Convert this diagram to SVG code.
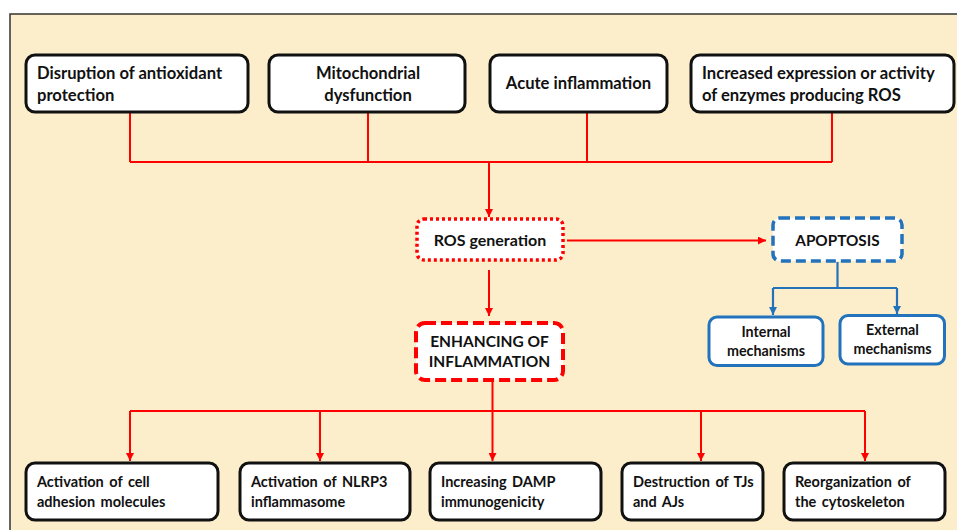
<svg xmlns="http://www.w3.org/2000/svg" width="957" height="530" viewBox="0 0 957 530">
<defs>
<marker id="ar" viewBox="0 0 8 8" refX="8" refY="4" markerWidth="8" markerHeight="8" markerUnits="userSpaceOnUse" orient="auto"><path d="M0,0 L8,4 L0,8 z" fill="#FF0000"/></marker>
<marker id="ab" viewBox="0 0 8 8" refX="8" refY="4" markerWidth="8" markerHeight="8" markerUnits="userSpaceOnUse" orient="auto"><path d="M0,0 L8,4 L0,8 z" fill="#2272BC"/></marker>
</defs>
<style>
.t{font-family:Lato,"Liberation Sans",sans-serif;font-weight:bold;font-size:16.6px;fill:#111}
.m{font-size:16px}
.s{font-size:14.3px}
.l{font-size:14.5px;word-spacing:2px}
.c{text-anchor:middle}
.bx{fill:#fff;stroke:#111;stroke-width:3}
.bb{fill:#fff;stroke:#2272BC;stroke-width:3}
.r{fill:none;stroke:#FF0000;stroke-width:2}
.b{fill:none;stroke:#2272BC;stroke-width:2.2}
</style>
<rect x="0" y="0" width="957" height="530" fill="#fff"/>
<rect x="10" y="14" width="960" height="530" fill="#FDEECB" stroke="#333" stroke-width="1.5"/>

<g id="connectors">
<path class="r" d="M130,112 V162 M368,112 V162 M587,112 V162 M832,112 V162 M130,162 H832"/>
<path class="r" d="M489,162 V217" marker-end="url(#ar)"/>
<path class="r" d="M567,240.5 H766" marker-end="url(#ar)"/>
<path class="r" d="M489,270 V316" marker-end="url(#ar)"/>
<path class="r" d="M492.5,382 V411 M130,411 H865"/>
<path class="r" d="M130,411 V461" marker-end="url(#ar)"/>
<path class="r" d="M320,411 V461" marker-end="url(#ar)"/>
<path class="r" d="M492.5,411 V461" marker-end="url(#ar)"/>
<path class="r" d="M701,411 V461" marker-end="url(#ar)"/>
<path class="r" d="M865,411 V461" marker-end="url(#ar)"/>
<path class="b" d="M837.5,262 V288 M773,288 H897"/>
<path class="b" d="M773,288 V315" marker-end="url(#ab)"/>
<path class="b" d="M897,288 V314" marker-end="url(#ab)"/>
</g>

<g id="n1"><rect class="bx" x="26" y="55" width="222" height="57" rx="9"/>
<text class="t" x="37" y="79">Disruption of antioxidant</text><text class="t" x="37" y="101">protection</text></g>
<g id="n2"><rect class="bx" x="269" y="55" width="196" height="57" rx="9"/>
<text class="t c" x="368" y="79">Mitochondrial</text><text class="t c" x="368" y="101">dysfunction</text></g>
<g id="n3"><rect class="bx" x="490" y="55" width="177" height="57" rx="9"/>
<text class="t c" x="578.5" y="89">Acute inflammation</text></g>
<g id="n4"><rect class="bx" x="691" y="55" width="263" height="57" rx="9"/>
<text class="t" x="702" y="79">Increased expression or activity</text><text class="t" x="702" y="101">of enzymes producing ROS</text></g>

<g id="ros"><rect x="417" y="219" width="146" height="41" rx="7" fill="#fff" stroke="#FF0000" stroke-width="3.5" stroke-dasharray="3 3"/>
<text class="t m c" x="490" y="245.5">ROS generation</text></g>
<g id="apoptosis"><rect x="773" y="218" width="129" height="43" rx="7" fill="#fff" stroke="#2272BC" stroke-width="3.5" stroke-dasharray="10 5"/>
<text class="t c" x="837.5" y="245.5" style="font-size:15.3px">APOPTOSIS</text></g>
<g id="enhancing"><rect x="416" y="323" width="147" height="57" rx="9" fill="#fff" stroke="#FF0000" stroke-width="4" stroke-dasharray="11 5"/>
<text class="t c" x="489.5" y="347" style="font-size:15.5px">ENHANCING OF</text><text class="t c" x="489.5" y="367" style="font-size:15.5px">INFLAMMATION</text></g>

<g id="internal"><rect class="bb" x="709" y="317" width="114" height="48.5" rx="8"/>
<text class="t s c" x="766" y="337">Internal</text><text class="t s c" x="766" y="356">mechanisms</text></g>
<g id="external"><rect class="bb" x="840" y="315.5" width="104.5" height="48.5" rx="8"/>
<text class="t s c" x="892.5" y="335">External</text><text class="t s c" x="892.5" y="354">mechanisms</text></g>

<g id="b1"><rect class="bx" x="26" y="463" width="192" height="57" rx="9"/>
<text class="t l" x="37" y="487">Activation of cell</text><text class="t l" x="37" y="507">adhesion molecules</text></g>
<g id="b2"><rect class="bx" x="240" y="463" width="170" height="57" rx="9"/>
<text class="t l" x="251" y="487">Activation of NLRP3</text><text class="t l" x="251" y="507">inflammasome</text></g>
<g id="b3"><rect class="bx" x="430" y="463" width="171" height="57" rx="9"/>
<text class="t l" x="441" y="487">Increasing DAMP</text><text class="t l" x="441" y="507">immunogenicity</text></g>
<g id="b4"><rect class="bx" x="622" y="463" width="141" height="57" rx="9"/>
<text class="t l" x="633" y="487">Destruction of TJs</text><text class="t l" x="633" y="507">and AJs</text></g>
<g id="b5"><rect class="bx" x="784" y="463" width="161" height="57" rx="9"/>
<text class="t l" x="795" y="487">Reorganization of</text><text class="t l" x="795" y="507">the cytoskeleton</text></g>
</svg>
